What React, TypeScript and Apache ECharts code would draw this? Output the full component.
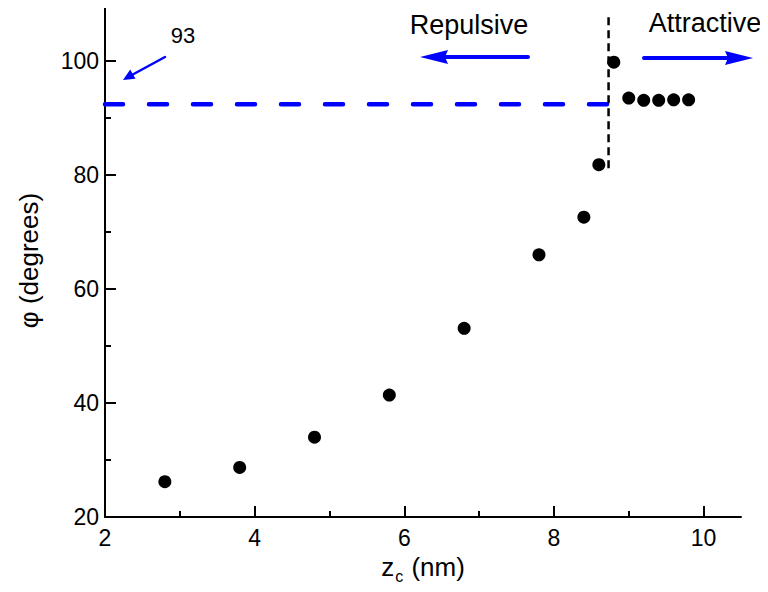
import React, { useEffect, useRef } from "react";
import * as echarts from "echarts";

// Data
const zc = [2.8, 3.8, 4.8, 5.8, 6.8, 7.8, 8.4, 8.6, 8.8, 9.0, 9.2, 9.4, 9.6, 9.8];
const phi = [26.2, 28.7, 34.0, 41.4, 53.1, 66.0, 72.6, 81.8, 99.8, 93.5, 93.1, 93.1, 93.2, 93.2];

// Reference lines
const thresholdPhi = 92.4; // horizontal dashed line (labelled 93)
const transitionZc = 8.73; // vertical dashed line
const thresholdSpanZc = [2, transitionZc];
const transitionSpanPhi = [81.2, 108];

// Axis ticks
const xMajorTicks = [2, 4, 6, 8, 10];
const xMinorTicks = [3, 5, 7, 9];
const yMajorTicks = [20, 40, 60, 80, 100];
const yMinorTicks = [30, 50, 70, 90, 110];

const FONT = "'Liberation Sans', Arial, sans-serif";
const BLUE = "#0000ff";

export default function App() {
  const ref = useRef<HTMLDivElement>(null);
  useEffect(() => {
    if (!ref.current) return;
    const chart = echarts.init(ref.current, null, { renderer: "svg" });
    const axisCommon = {
      type: "value" as const,
      splitLine: { show: false },
    };
    chart.setOption({
      animation: false,
      backgroundColor: "#ffffff",
      grid: { left: 105, right: 27, top: 4, bottom: 75, containLabel: false },
      xAxis: [
        {
          ...axisCommon,
          min: 2,
          max: 10.5,
          interval: 2,
          position: "bottom",
          axisLine: { show: true, lineStyle: { color: "#000", width: 2 } },
          axisTick: { show: true, inside: true, length: 11, lineStyle: { color: "#000", width: 2 }, customValues: xMajorTicks },
          axisLabel: { color: "#000", fontSize: 23, fontFamily: FONT, margin: 9, customValues: xMajorTicks },
          name: "{a|z}{b|c}{a| (nm)}",
          nameLocation: "middle",
          nameGap: 28,
          nameTextStyle: {
            rich: {
              a: { fontSize: 26, fontFamily: FONT, color: "#000" },
              b: { fontSize: 16, fontFamily: FONT, color: "#000", padding: [20, 1, 0, 1] },
            },
          },
        },
        {
          ...axisCommon,
          min: 2,
          max: 10.5,
          interval: 2,
          position: "bottom",
          axisLine: { show: false },
          axisTick: { show: true, inside: true, length: 6, lineStyle: { color: "#000", width: 2 }, customValues: xMinorTicks },
          axisLabel: { show: false },
        },
      ],
      yAxis: [
        {
          ...axisCommon,
          min: 20,
          max: 110,
          interval: 20,
          position: "left",
          axisLine: { show: true, lineStyle: { color: "#000", width: 2 } },
          axisTick: { show: true, inside: true, length: 11, lineStyle: { color: "#000", width: 2 }, customValues: yMajorTicks },
          axisLabel: { color: "#000", fontSize: 23, fontFamily: FONT, margin: 6, customValues: yMajorTicks },
          name: "φ (degrees)",
          nameLocation: "middle",
          nameRotate: 90,
          nameGap: 63,
          nameTextStyle: { fontSize: 26, fontFamily: FONT, color: "#000" },
        },
        {
          ...axisCommon,
          min: 20,
          max: 110,
          interval: 20,
          position: "left",
          axisLine: { show: false },
          axisTick: { show: true, inside: true, length: 6, lineStyle: { color: "#000", width: 2 }, customValues: yMinorTicks },
          axisLabel: { show: false },
        },
      ],
      series: [
        {
          type: "line",
          xAxisIndex: 0,
          yAxisIndex: 0,
          data: thresholdSpanZc.map((x) => [x, thresholdPhi]),
          symbol: "none",
          lineStyle: { color: BLUE, width: 4.5, type: [18, 26], cap: "round" },
          silent: true,
          z: 1,
        },
        {
          type: "line",
          xAxisIndex: 0,
          yAxisIndex: 0,
          data: transitionSpanPhi.map((y) => [transitionZc, y]),
          symbol: "none",
          lineStyle: { color: "#000", width: 2.5, type: [8, 5] },
          silent: true,
          z: 1,
        },
        {
          type: "scatter",
          xAxisIndex: 0,
          yAxisIndex: 0,
          data: zc.map((x, i) => [x, phi[i]]),
          symbol: "circle",
          symbolSize: 13,
          itemStyle: { color: "#000", opacity: 1 },
          z: 3,
        },
      ],
      graphic: [
        { type: "text", style: { text: "Repulsive", x: 469, y: 25, textAlign: "center", textVerticalAlign: "middle", font: `27px ${FONT}`, fill: "#000" } },
        { type: "text", style: { text: "Attractive", x: 705, y: 23, textAlign: "center", textVerticalAlign: "middle", font: `27px ${FONT}`, fill: "#000" } },
        { type: "text", style: { text: "93", x: 183, y: 35, textAlign: "center", textVerticalAlign: "middle", font: `22px ${FONT}`, fill: "#000" } },
        // Repulsive arrow
        { type: "line", shape: { x1: 528, y1: 57, x2: 440, y2: 57 }, style: { stroke: BLUE, lineWidth: 4, lineCap: "round" } },
        { type: "polygon", shape: { points: [[420, 57], [448, 50], [445, 57], [448, 64]] }, style: { fill: BLUE } },
        // Attractive arrow
        { type: "line", shape: { x1: 644, y1: 58, x2: 732, y2: 58 }, style: { stroke: BLUE, lineWidth: 4, lineCap: "round" } },
        { type: "polygon", shape: { points: [[753, 58], [725, 51], [728, 58], [725, 65]] }, style: { fill: BLUE } },
        // 93 pointer arrow
        { type: "line", shape: { x1: 165, y1: 57, x2: 130, y2: 76 }, style: { stroke: BLUE, lineWidth: 2.5, lineCap: "round" } },
        { type: "polygon", shape: { points: [[123, 80], [135.5, 78.8], [130.2, 69.6]] }, style: { fill: BLUE } },
      ],
    });
    return () => chart.dispose();
  }, []);
  return <div ref={ref} style={{ width: 768, height: 592, margin: -8 }} />;
}
